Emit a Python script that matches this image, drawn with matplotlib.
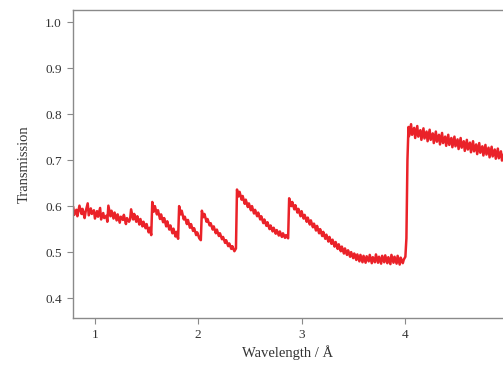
import matplotlib

matplotlib.use("Agg")
import matplotlib.pyplot as plt

# transmission spectrum (wavelength in Angstrom)
wavelength = [
    0.79, 0.80, 0.82, 0.83, 0.85, 0.87, 0.88, 0.90, 0.91, 0.93, 0.94, 0.96, 0.97, 0.99, 1.00,
    1.02, 1.03, 1.05, 1.06, 1.08, 1.09, 1.11, 1.12, 1.13, 1.15, 1.16, 1.18, 1.19, 1.21, 1.22,
    1.24, 1.25, 1.27, 1.28, 1.30, 1.31, 1.33, 1.34, 1.35, 1.37, 1.38, 1.40, 1.41, 1.43, 1.44,
    1.46, 1.47, 1.49, 1.50, 1.52, 1.53, 1.545,
    1.555, 1.57, 1.58, 1.60, 1.61, 1.63, 1.64, 1.66, 1.67, 1.69, 1.70, 1.72, 1.73, 1.75, 1.76,
    1.78, 1.79, 1.805,
    1.815, 1.83, 1.84, 1.86, 1.87, 1.89, 1.90, 1.92, 1.93, 1.95, 1.96, 1.98, 1.99, 2.01, 2.025,
    2.035, 2.05, 2.06, 2.08, 2.09, 2.11, 2.12, 2.14, 2.15, 2.17, 2.18, 2.20, 2.21, 2.23, 2.24,
    2.26, 2.27, 2.29, 2.30, 2.32, 2.33, 2.35, 2.365,
    2.375, 2.39, 2.40, 2.42, 2.43, 2.45, 2.46, 2.48, 2.49, 2.51, 2.52, 2.54, 2.55, 2.57, 2.58,
    2.60, 2.61, 2.63, 2.64, 2.66, 2.67, 2.69, 2.70, 2.72, 2.73, 2.75, 2.76, 2.78, 2.79, 2.81,
    2.82, 2.84, 2.85, 2.87,
    2.88, 2.90, 2.91, 2.93, 2.94, 2.96, 2.97, 2.99, 3.00, 3.02, 3.03, 3.05, 3.06, 3.08, 3.09,
    3.11, 3.12, 3.14, 3.15, 3.17, 3.18, 3.20, 3.21, 3.23, 3.24, 3.26, 3.27, 3.29, 3.30, 3.32,
    3.33, 3.35, 3.36, 3.38, 3.39, 3.41, 3.42, 3.44, 3.45, 3.47, 3.48, 3.50, 3.51, 3.53, 3.54,
    3.56, 3.57, 3.59, 3.60, 3.62, 3.63, 3.65, 3.66, 3.68, 3.69, 3.71, 3.72, 3.74, 3.75, 3.77,
    3.78, 3.80, 3.81, 3.83, 3.84, 3.86, 3.87, 3.89, 3.90, 3.92, 3.93, 3.95, 3.96, 3.98, 3.99,
    4.005, 4.015, 4.025,
    4.035, 4.04, 4.06, 4.07, 4.09, 4.10, 4.12, 4.13, 4.15, 4.16, 4.18, 4.19, 4.21, 4.22, 4.24,
    4.25, 4.27, 4.28, 4.30, 4.31, 4.33, 4.34, 4.36, 4.37, 4.39, 4.40, 4.42, 4.43, 4.45, 4.46,
    4.48, 4.49, 4.51, 4.52, 4.54, 4.55, 4.57, 4.58, 4.60, 4.61, 4.63, 4.64, 4.66, 4.67, 4.69,
    4.70, 4.72, 4.73, 4.75, 4.76, 4.78, 4.79, 4.81, 4.82, 4.84, 4.85, 4.87, 4.88, 4.90, 4.91,
    4.93, 4.94, 4.96,
]
transmission = [
    0.597, 0.581, 0.592, 0.578, 0.601, 0.583, 0.594, 0.574, 0.588, 0.606, 0.580, 0.595, 0.583, 0.591, 0.573,
    0.589, 0.577, 0.596, 0.571, 0.585, 0.574, 0.579, 0.566, 0.601, 0.578, 0.590, 0.573, 0.586, 0.569, 0.582,
    0.564, 0.577, 0.570, 0.581, 0.561, 0.574, 0.566, 0.571, 0.593, 0.571, 0.583, 0.566, 0.578, 0.560, 0.572,
    0.556, 0.566, 0.552, 0.561, 0.543, 0.553, 0.537,
    0.609, 0.588, 0.600, 0.582, 0.591, 0.572, 0.582, 0.565, 0.574, 0.556, 0.567, 0.549, 0.558, 0.541, 0.551,
    0.534, 0.544, 0.529,
    0.600, 0.582, 0.590, 0.571, 0.577, 0.561, 0.570, 0.553, 0.561, 0.546, 0.552, 0.537, 0.543, 0.530, 0.526,
    0.590, 0.576, 0.583, 0.566, 0.572, 0.558, 0.563, 0.549, 0.556, 0.541, 0.549, 0.535, 0.541, 0.528, 0.533,
    0.520, 0.526, 0.513, 0.519, 0.507, 0.513, 0.502, 0.508,
    0.636, 0.621, 0.631, 0.614, 0.622, 0.605, 0.614, 0.598, 0.606, 0.591, 0.600, 0.584, 0.592, 0.578, 0.586,
    0.571, 0.578, 0.563, 0.571, 0.557, 0.565, 0.550, 0.558, 0.545, 0.553, 0.540, 0.548, 0.536, 0.545, 0.533,
    0.541, 0.531, 0.537, 0.530,
    0.617, 0.600, 0.609, 0.593, 0.602, 0.586, 0.594, 0.578, 0.589, 0.573, 0.581, 0.566, 0.575, 0.560, 0.569,
    0.554, 0.562, 0.547, 0.557, 0.541, 0.550, 0.535, 0.544, 0.529, 0.538, 0.523, 0.533, 0.518, 0.527, 0.512,
    0.522, 0.507, 0.517, 0.502, 0.512, 0.497, 0.508, 0.494, 0.504, 0.490, 0.500, 0.487, 0.497, 0.483, 0.495,
    0.480, 0.494, 0.478, 0.492, 0.477, 0.491, 0.480, 0.494, 0.476, 0.489, 0.478, 0.495, 0.477, 0.490, 0.475,
    0.492, 0.478, 0.493, 0.476, 0.489, 0.474, 0.494, 0.477, 0.490, 0.475, 0.492, 0.473, 0.488, 0.476, 0.484,
    0.490, 0.530, 0.700,
    0.772, 0.752, 0.778, 0.755, 0.770, 0.748, 0.774, 0.751, 0.765, 0.744, 0.769, 0.747, 0.762, 0.741, 0.766,
    0.744, 0.758, 0.737, 0.762, 0.740, 0.755, 0.734, 0.759, 0.737, 0.751, 0.731, 0.755, 0.733, 0.748, 0.728,
    0.751, 0.730, 0.745, 0.724, 0.748, 0.727, 0.741, 0.720, 0.744, 0.723, 0.738, 0.717, 0.741, 0.719, 0.734,
    0.713, 0.737, 0.716, 0.730, 0.710, 0.733, 0.712, 0.727, 0.706, 0.729, 0.708, 0.723, 0.703, 0.725, 0.704,
    0.719, 0.699, 0.714,
]
x_ticks = [1, 2, 3, 4, 5]
y_ticks = [0.4, 0.5, 0.6, 0.7, 0.8, 0.9, 1.0]

plt.rcParams["font.family"] = ["Liberation Serif", "DejaVu Serif"]

fig = plt.figure(figsize=(5.03, 3.73), dpi=100)
ax = fig.add_axes([0.145, 0.147, 0.855, 0.826])
ax.plot(wavelength, transmission, color="#ea2229", linewidth=1.8)

ax.set_xticks(x_ticks)
ax.set_yticks(y_ticks)
ax.set_yticklabels([f"{v:.1f}" for v in y_ticks])
# limits after ticks so the tick at 5 does not widen the view
ax.set_xlim(0.787, 4.95)
ax.set_ylim(0.3565, 1.026)

ax.spines["right"].set_visible(False)
for side in ("left", "bottom", "top"):
    ax.spines[side].set_color("#8a8a8a")
    ax.spines[side].set_linewidth(1.0)
ax.tick_params(direction="out", length=4, width=0.8, color="#8a8a8a",
               labelcolor="#333333", labelsize=9.5, pad=4)

ax.set_xlabel("Wavelength / Å", fontsize=10.5, color="#333333", labelpad=3)
ax.set_ylabel("Transmission", fontsize=10.5, color="#333333", labelpad=10)

fig.savefig("out.png", dpi=100, facecolor="white")
plt.close(fig)
